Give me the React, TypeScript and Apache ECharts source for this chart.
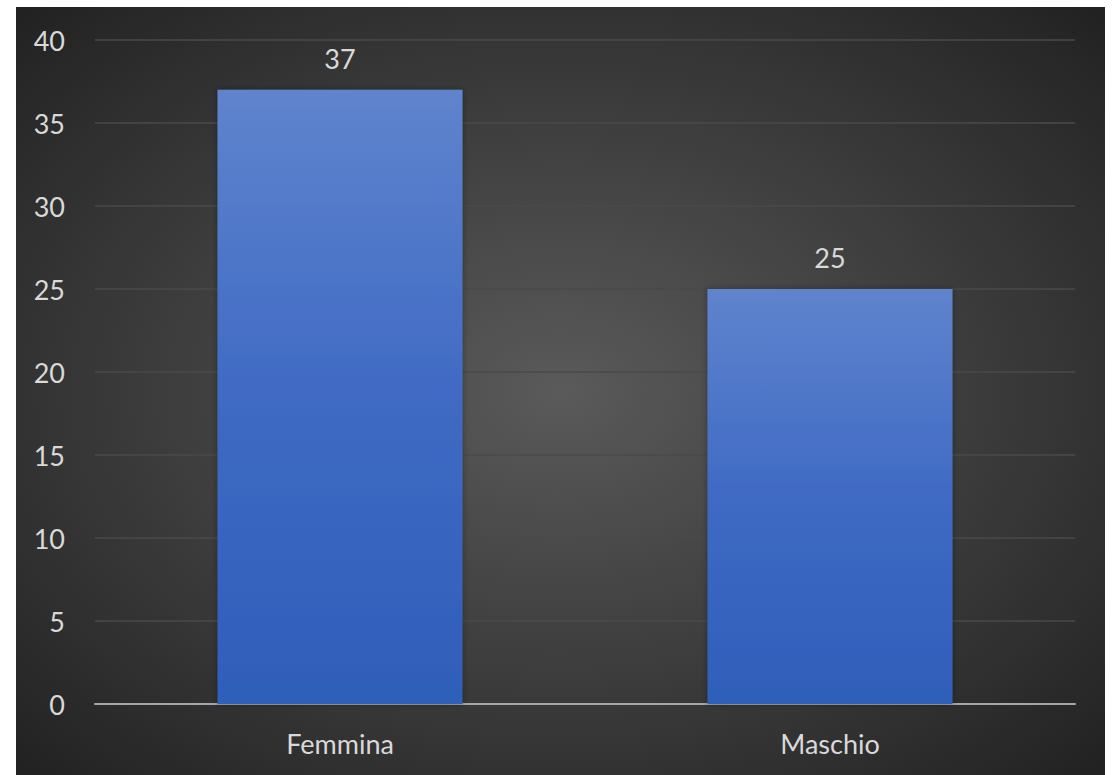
import React, { useEffect, useRef } from "react";
import * as echarts from "echarts";

const categories = ["Femmina", "Maschio"];
const values = [37, 25];
const yTicks = { min: 0, max: 40, interval: 5 };

export default function App() {
  const ref = useRef<HTMLDivElement>(null);
  useEffect(() => {
    const chart = echarts.init(ref.current!, undefined, { renderer: "svg" });
    const font = "Lato";
    chart.setOption({
      animation: false,
      backgroundColor: "#ffffff",
      graphic: [
        {
          type: "rect",
          z: -10,
          silent: true,
          shape: { x: 16, y: 7, width: 1089, height: 768 },
          style: {
            fill: {
              type: "radial",
              x: 0.5,
              y: 0.5,
              r: 0.75,
              colorStops: [
                { offset: 0, color: "#5a5a5a" },
                { offset: 1, color: "#1e1e1e" },
              ],
            },
          },
        },
      ],
      grid: { left: 95, right: 41, top: 40, bottom: 71 },
      xAxis: {
        type: "category",
        data: categories,
        axisLine: { lineStyle: { color: "#a6a6a6", width: 2 } },
        axisTick: { show: false },
        axisLabel: { color: "#d9d9d9", fontSize: 27, fontFamily: font, margin: 26 },
      },
      yAxis: {
        type: "value",
        min: yTicks.min,
        max: yTicks.max,
        interval: yTicks.interval,
        axisLine: { show: false },
        axisTick: { show: false },
        splitLine: { lineStyle: { color: "#4a4a4a", width: 1.5 } },
        axisLabel: { color: "#d9d9d9", fontSize: 27, fontFamily: font, margin: 30 },
      },
      series: [
        {
          type: "bar",
          data: values,
          barWidth: "50%",
          itemStyle: {
            color: {
              type: "linear",
              x: 0,
              y: 0,
              x2: 0,
              y2: 1,
              colorStops: [
                { offset: 0, color: "#5f84cd" },
                { offset: 0.5, color: "#3f6ac4" },
                { offset: 1, color: "#2e5eb9" },
              ],
            },
            shadowColor: "rgba(0,0,0,0.35)",
            shadowBlur: 6,
          },
          label: {
            show: true,
            position: "top",
            distance: 18,
            color: "#d9d9d9",
            fontSize: 27,
            fontFamily: font,
          },
        },
      ],
    });
    return () => chart.dispose();
  }, []);
  return (
    <div
      ref={ref}
      style={{ position: "absolute", left: 0, top: 0, width: 1116, height: 775 }}
    />
  );
}
